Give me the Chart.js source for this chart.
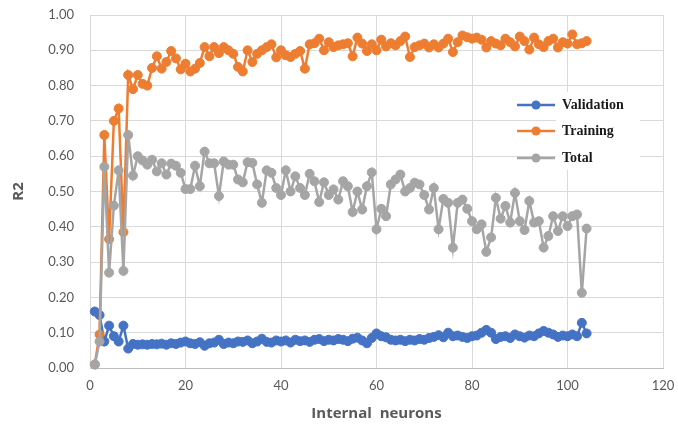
<!DOCTYPE html>
<html>
<head>
<meta charset="utf-8">
<script src="https://cdn.jsdelivr.net/npm/chart.js@4.4.1/dist/chart.umd.min.js"></script>
<style>
  html, body { margin: 0; padding: 0; background: #ffffff; }
  #chart { display: block; }
</style>
</head>
<body>
<canvas id="chart" width="678" height="431"></canvas>
<script>
// Number of internal neurons (x values)
const neurons = [1, 2, 3, 4, 5, 6, 7, 8, 9, 10, 11, 12, 13, 14, 15, 16, 17, 18, 19, 20,
    21, 22, 23, 24, 25, 26, 27, 28, 29, 30, 31, 32, 33, 34, 35, 36, 37, 38, 39, 40,
    41, 42, 43, 44, 45, 46, 47, 48, 49, 50, 51, 52, 53, 54, 55, 56, 57, 58, 59, 60,
    61, 62, 63, 64, 65, 66, 67, 68, 69, 70, 71, 72, 73, 74, 75, 76, 77, 78, 79, 80,
    81, 82, 83, 84, 85, 86, 87, 88, 89, 90, 91, 92, 93, 94, 95, 96, 97, 98, 99, 100,
    101, 102, 103, 104];

// R2 values
const validation = [0.16, 0.15, 0.075, 0.12, 0.09, 0.075, 0.12, 0.055, 0.068, 0.066,
    0.067, 0.066, 0.068, 0.067, 0.069, 0.066, 0.07, 0.068, 0.072, 0.075,
    0.07, 0.068, 0.073, 0.063, 0.07, 0.072, 0.08, 0.068, 0.072, 0.07,
    0.075, 0.074, 0.078, 0.07, 0.075, 0.083, 0.074, 0.072, 0.078, 0.075,
    0.078, 0.072, 0.08, 0.076, 0.078, 0.074, 0.08, 0.082, 0.076, 0.08,
    0.078, 0.082, 0.08, 0.076, 0.083, 0.086, 0.078, 0.07, 0.085, 0.098,
    0.09, 0.087, 0.08, 0.078, 0.08, 0.076, 0.08, 0.078, 0.082, 0.08,
    0.085, 0.088, 0.093, 0.087, 0.1, 0.09, 0.092, 0.088, 0.085, 0.09,
    0.092, 0.1, 0.108, 0.1, 0.082, 0.088, 0.09, 0.085, 0.095, 0.09,
    0.086, 0.092, 0.09, 0.098, 0.105, 0.1, 0.095, 0.088, 0.092, 0.09,
    0.095, 0.09, 0.128, 0.098];

const training = [0.01, 0.095, 0.66, 0.365, 0.70, 0.735, 0.385, 0.83, 0.79, 0.83,
    0.805, 0.80, 0.85, 0.883, 0.848, 0.867, 0.898, 0.877, 0.846, 0.862,
    0.84, 0.848, 0.864, 0.909, 0.883, 0.909, 0.892, 0.909, 0.90, 0.89,
    0.853, 0.84, 0.90, 0.867, 0.89, 0.90, 0.909, 0.917, 0.88, 0.90,
    0.886, 0.881, 0.89, 0.898, 0.848, 0.917, 0.92, 0.933, 0.90, 0.923,
    0.909, 0.914, 0.917, 0.92, 0.883, 0.936, 0.919, 0.898, 0.917, 0.90,
    0.93, 0.911, 0.92, 0.914, 0.926, 0.939, 0.881, 0.909, 0.914, 0.919,
    0.908, 0.917, 0.908, 0.919, 0.933, 0.895, 0.923, 0.942, 0.937, 0.933,
    0.936, 0.93, 0.908, 0.926, 0.919, 0.914, 0.933, 0.923, 0.911, 0.939,
    0.926, 0.902, 0.936, 0.917, 0.909, 0.926, 0.933, 0.908, 0.923, 0.919,
    0.945, 0.917, 0.92, 0.926];

const total = [0.01, 0.075, 0.57, 0.27, 0.46, 0.56, 0.275, 0.66, 0.545, 0.60,
    0.588, 0.576, 0.59, 0.557, 0.58, 0.548, 0.579, 0.573, 0.553, 0.507,
    0.507, 0.573, 0.515, 0.613, 0.58, 0.58, 0.487, 0.585, 0.576, 0.576,
    0.534, 0.526, 0.583, 0.581, 0.52, 0.468, 0.56, 0.553, 0.51, 0.49,
    0.56, 0.50, 0.543, 0.51, 0.49, 0.55, 0.529, 0.47, 0.526, 0.49,
    0.506, 0.477, 0.529, 0.515, 0.442, 0.50, 0.449, 0.515, 0.554, 0.393,
    0.451, 0.43, 0.52, 0.534, 0.548, 0.50, 0.51, 0.525, 0.52, 0.49,
    0.449, 0.51, 0.393, 0.479, 0.468, 0.341, 0.468, 0.477, 0.451, 0.416,
    0.393, 0.407, 0.329, 0.37, 0.482, 0.423, 0.459, 0.412, 0.496, 0.416,
    0.391, 0.473, 0.412, 0.416, 0.341, 0.374, 0.43, 0.388, 0.43, 0.402,
    0.43, 0.435, 0.213, 0.395];

// Axis ticks
const xTicks = [0, 20, 40, 60, 80, 100, 120];
const yTicks = [0, 0.1, 0.2, 0.3, 0.4, 0.5, 0.6, 0.7, 0.8, 0.9, 1.0];

const seriesNames = ['Validation', 'Training', 'Total'];
const seriesColors = ['#4472C4', '#ED7D31', '#A5A5A5'];

function toPoints(values) {
    return neurons.map((n, i) => ({ x: n, y: values[i] }));
}

function makeDataset(label, values, color, order) {
    return {
        label: label,
        data: toPoints(values),
        borderColor: color,
        backgroundColor: color,
        borderWidth: 2.5,
        pointRadius: 4.5,
        pointBorderWidth: 1,
        pointBorderColor: color,
        pointBackgroundColor: color,
        tension: 0,
        clip: false,
        order: order
    };
}

// Legend drawn inside the plot area, like the original
const insideLegend = {
    id: 'insideLegend',
    afterDraw(chart) {
        const ctx = chart.ctx;
        ctx.save();
        ctx.fillStyle = '#ffffff';
        ctx.fillRect(556, 92, 84, 78);
        const rows = [105, 131, 158];
        seriesNames.forEach((name, i) => {
            const y = rows[i];
            ctx.strokeStyle = seriesColors[i];
            ctx.lineWidth = 2.5;
            ctx.beginPath();
            ctx.moveTo(517, y);
            ctx.lineTo(555, y);
            ctx.stroke();
            ctx.fillStyle = seriesColors[i];
            ctx.beginPath();
            ctx.arc(536, y, 4.5, 0, Math.PI * 2);
            ctx.fill();
            ctx.fillStyle = '#1a1a1a';
            ctx.font = 'bold 14px "Liberation Serif", "DejaVu Serif", serif';
            ctx.textBaseline = 'middle';
            ctx.textAlign = 'left';
            ctx.fillText(name, 562, y);
        });
        ctx.restore();
    }
};

const ctx = document.getElementById('chart').getContext('2d');
const chart = new Chart(ctx, {
    type: 'line',
    data: {
        datasets: [
            makeDataset(seriesNames[0], validation, seriesColors[0], 2),
            makeDataset(seriesNames[1], training, seriesColors[1], 1),
            makeDataset(seriesNames[2], total, seriesColors[2], 0)
        ]
    },
    options: {
        responsive: false,
        devicePixelRatio: 1,
        animation: false,
        layout: { padding: { top: 15, right: 15, left: 0, bottom: 0 } },
        plugins: {
            legend: { display: false },
            tooltip: { enabled: false }
        },
        scales: {
            x: {
                type: 'linear',
                min: 0,
                max: 120,
                afterBuildTicks: (scale) => { scale.ticks = xTicks.map(v => ({ value: v })); },
                afterFit: (scale) => { scale.height = 63; },
                grid: { color: '#d9d9d9', lineWidth: 1, drawTicks: true, tickLength: 10, tickColor: 'rgba(0,0,0,0)' },
                border: { color: '#bfbfbf' },
                ticks: {
                    color: '#595959',
                    font: { family: 'Lato, "Open Sans", sans-serif', size: 13 },
                    padding: 0
                },
                title: {
                    display: true,
                    text: 'Internal  neurons',
                    color: '#595959',
                    font: { family: '"Open Sans", Lato, sans-serif', size: 15, weight: 'bold' },
                    padding: { top: 0, bottom: 8 }
                }
            },
            y: {
                min: 0,
                max: 1,
                afterBuildTicks: (scale) => { scale.ticks = yTicks.map(v => ({ value: v })); },
                afterFit: (scale) => { scale.width = 90; },
                grid: { color: '#d9d9d9', lineWidth: 1, drawTicks: true, tickLength: 16, tickColor: 'rgba(0,0,0,0)' },
                border: { color: '#d9d9d9' },
                ticks: {
                    color: '#595959',
                    font: { family: 'Lato, "Open Sans", sans-serif', size: 13 },
                    padding: 0,
                    callback: (value) => Number(value).toFixed(2)
                },
                title: {
                    display: true,
                    text: 'R2',
                    color: '#595959',
                    font: { family: '"Open Sans", Lato, sans-serif', size: 15, weight: 'bold' },
                    padding: { top: 10, bottom: 0 }
                }
            }
        }
    },
    plugins: [insideLegend]
});
</script>
</body>
</html>
